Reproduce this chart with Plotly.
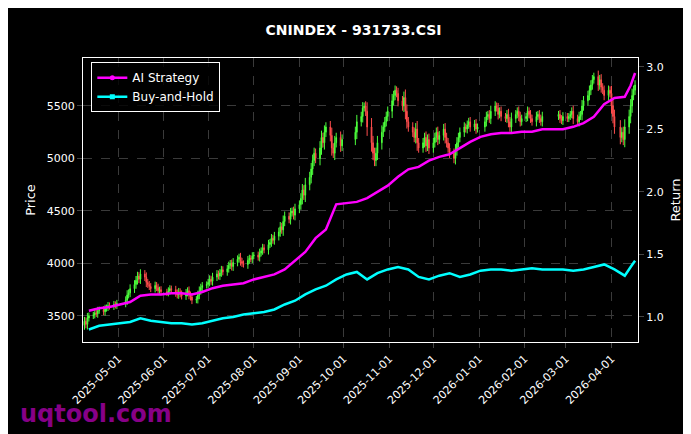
import pandas as pd
import plotly.graph_objects as go

closes = [3450,3420,3480,3500,3510,3530,3520,3550,3560,3540,3570,3580,3600,3590,3610,3600,3620,
3650,3700,3720,3760,3800,3840,3880,3850,3900,3870,3820,3800,3780,3760,3790,3770,3740,3750,3730,
3720,3740,3760,3750,3720,3700,3730,3710,3690,3720,3740,3700,3680,3650,3660,3700,3740,3770,3790,3800,
3820,3850,3830,3870,3900,3880,3910,3940,3920,3950,3980,4000,3970,4010,4040,4060,4020,4000,3990,4030,4050,4040,4070,
4080,4060,4100,4120,4150,4130,4180,4200,4240,4220,4260,4300,4350,4320,4400,4450,4420,4480,4500,4460,4520,
4560,4620,4700,4650,4750,4820,4900,4980,5050,5000,5100,5200,5150,5250,5300,5220,5100,5050,5150,5200,5120,5180,
5250,5350,5400,5480,5500,5450,5300,5150,5050,4980,5050,5150,5250,5300,5350,5400,5450,
5550,5600,5650,5620,5550,5500,5580,5450,5350,5300,5250,5200,5280,5150,5100,5150,5200,5120,5180,5100,
5150,5200,5250,5180,5220,5280,5200,5150,5100,5050,5000,5080,5150,5200,5250,5300,5280,5320,5350,5300,5330,5280,5300,
5350,5400,5420,5380,5450,5500,5480,5420,5450,5400,5380,5420,5350,5300,5380,5420,5450,5400,5350,5380,
5400,5450,5420,5380,5350,5400,5420,5380,5350,5400,5420,5380,5360,5400,
5380,5400,5420,5450,5380,5350,5400,5420,5500,5550,5600,5650,5700,5750,5780,5700,5750,5680,5650,5600,5650,5620,
5500,5400,5300,5200,5250,5180,5300,5400,5500,5600,5650,5700]

holidays = ["2025-05-01","2025-05-02","2025-05-05","2025-06-02","2025-10-01","2025-10-02","2025-10-03",
"2025-10-06","2025-10-07","2025-10-08","2026-01-01","2026-01-02","2026-02-16","2026-02-17","2026-02-18",
"2026-02-19","2026-02-20","2026-02-23","2026-04-06"]

line_dates = ["2025-04-11","2025-04-18","2025-04-25","2025-05-02","2025-05-09","2025-05-16","2025-05-23","2025-05-30",
"2025-06-06","2025-06-13","2025-06-20","2025-06-27","2025-07-04","2025-07-11","2025-07-18","2025-07-25",
"2025-08-01","2025-08-08","2025-08-15","2025-08-22","2025-08-29","2025-09-05","2025-09-12","2025-09-19","2025-09-26",
"2025-10-03","2025-10-10","2025-10-17","2025-10-24","2025-10-31","2025-11-07","2025-11-14","2025-11-21","2025-11-28",
"2025-12-05","2025-12-12","2025-12-19","2025-12-26","2026-01-02","2026-01-09","2026-01-16","2026-01-23","2026-01-30",
"2026-02-06","2026-02-13","2026-02-27","2026-03-06","2026-03-13","2026-03-20","2026-03-27","2026-04-03","2026-04-10",
"2026-04-14","2026-04-17"]
ai_strategy = [1.05,1.07,1.08,1.10,1.12,1.17,1.18,1.18,1.19,1.19,1.18,1.20,1.23,1.25,1.26,1.27,1.30,1.32,1.34,1.38,
1.45,1.52,1.63,1.70,1.90,1.91,1.92,1.95,2.00,2.05,2.12,2.18,2.20,2.25,2.28,2.30,2.35,2.40,2.44,2.46,2.47,2.47,2.48,
2.48,2.50,2.50,2.52,2.55,2.60,2.70,2.75,2.76,2.85,2.95]
buy_hold = [0.90,0.93,0.94,0.95,0.96,0.99,0.97,0.96,0.95,0.95,0.94,0.95,0.97,0.99,1.00,1.02,1.03,1.04,1.06,1.10,
1.13,1.18,1.22,1.25,1.30,1.34,1.36,1.30,1.35,1.38,1.40,1.38,1.32,1.30,1.33,1.35,1.32,1.34,1.37,1.38,
1.38,1.37,1.38,1.39,1.38,1.38,1.37,1.38,1.40,1.42,1.38,1.33,1.40,1.45]

days = [d for d in pd.bdate_range("2025-04-08", "2026-06-30") if d.strftime("%Y-%m-%d") not in holidays]
dates = days[:len(closes)]
opens = [closes[0] - 40] + closes[:-1]
highs = [max(o, c) + 25 + abs(c - o) * 0.4 for o, c in zip(opens, closes)]
lows = [min(o, c) - 25 - abs(c - o) * 0.4 for o, c in zip(opens, closes)]

fig = go.Figure()
fig.add_trace(go.Candlestick(x=dates, open=opens, high=highs, low=lows, close=closes,
    increasing=dict(line=dict(color="#4cff3c", width=1), fillcolor="#4cff3c"),
    decreasing=dict(line=dict(color="#ff4d4d", width=1), fillcolor="#ff4d4d"),
    showlegend=False, whiskerwidth=0))
n = min(len(line_dates), len(ai_strategy), len(buy_hold))
fig.add_trace(go.Scatter(x=line_dates[:n], y=ai_strategy[:n], mode="lines", line=dict(color="#ff00ff", width=2.5),
    yaxis="y2", showlegend=False))
fig.add_trace(go.Scatter(x=line_dates[:n], y=buy_hold[:n], mode="lines", line=dict(color="#00ffff", width=2.5),
    yaxis="y2", showlegend=False))
fig.add_trace(go.Scatter(x=[None], y=[None], mode="lines+markers", name="AI Strategy",
    line=dict(color="#ff00ff", width=2.5), marker=dict(size=5), yaxis="y2"))
fig.add_trace(go.Scatter(x=[None], y=[None], mode="lines+markers", name="Buy-and-Hold",
    line=dict(color="#00ffff", width=2.5), marker=dict(size=5, symbol="square"), yaxis="y2"))

grid = dict(showgrid=True, gridcolor="#3a3a3a", griddash="dash", gridwidth=0.5)
fig.update_layout(
    width=691, height=434, paper_bgcolor="black", plot_bgcolor="black",
    font=dict(family="DejaVu Sans", color="white", size=11),
    title=dict(text="<b>CNINDEX - 931733.CSI</b>", x=0.5, y=0.96, xanchor="center", font=dict(size=14)),
    margin=dict(l=75, r=61, t=50, b=100, autoexpand=False),
    xaxis=dict(**grid, rangeslider=dict(visible=False), range=["2025-04-07", "2026-04-19"],
        tickvals=["2025-05-01","2025-06-01","2025-07-01","2025-08-01","2025-09-01","2025-10-01","2025-11-01",
                  "2025-12-01","2026-01-01","2026-02-01","2026-03-01","2026-04-01"],
        ticktext=["2025-05-01","2025-06-01","2025-07-01","2025-08-01","2025-09-01","2025-10-01","2025-11-01",
                  "2025-12-01","2026-01-01","2026-02-01","2026-03-01","2026-04-01"],
        tickangle=-45, ticks="outside", linecolor="white", mirror=True, showline=True, automargin=False),
    yaxis=dict(**grid, title=dict(text="Price", standoff=8), range=[3252, 5957], tickvals=[3500,4000,4500,5000,5500],
        ticks="outside", linecolor="white", mirror=True, showline=True, zeroline=False, automargin=False),
    yaxis2=dict(title=dict(text="Return", standoff=8), overlaying="y", side="right", range=[0.8, 3.07],
        tickvals=[1.0,1.5,2.0,2.5,3.0], ticktext=["1.0","1.5","2.0","2.5","3.0"], showgrid=False,
        ticks="outside", zeroline=False, automargin=False),
    legend=dict(x=0.015, y=0.985, xanchor="left", yanchor="top", bgcolor="rgba(0,0,0,0.8)",
        bordercolor="white", borderwidth=1, font=dict(size=12)),
)
fig.add_annotation(text="<b>uqtool.com</b>", xref="paper", yref="paper", x=-0.117, y=-0.31,
    xanchor="left", yanchor="bottom", showarrow=False, font=dict(size=24, color="rgba(160,0,160,0.85)"))
fig.write_html("out.html")
